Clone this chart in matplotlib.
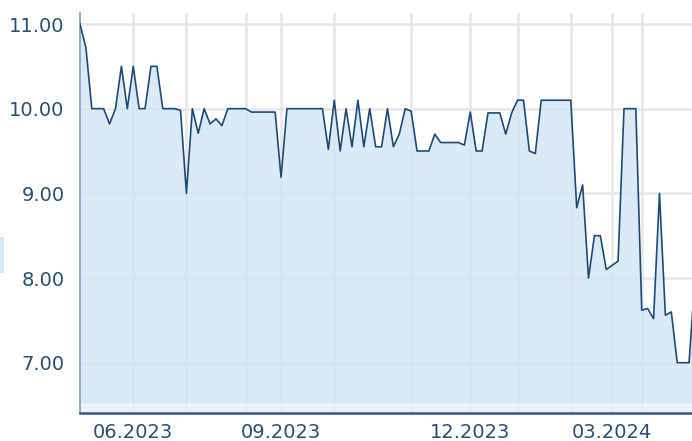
import numpy as np
import matplotlib.pyplot as plt
from matplotlib.patches import Rectangle

# sesiones con cotizacion por mes (eje de categorias, no de fechas)
meses = ["05.2023", "06.2023", "07.2023", "08.2023", "09.2023", "10.2023",
         "11.2023", "12.2023", "01.2024", "02.2024", "03.2024", "04.2024"]
sesiones = [9, 9, 10, 6, 9, 13, 10, 8, 9, 7, 5, 10]
etiquetas = ["06.2023", "09.2023", "12.2023", "03.2024"]

precio = [
    11.0, 10.72, 10.0, 10.0, 10.0, 9.82, 10.0, 10.5, 10.0,            # 05
    10.5, 10.0, 10.0, 10.5, 10.5, 10.0, 10.0, 10.0, 9.98,             # 06
    9.0, 10.0, 9.71, 10.0, 9.82, 9.88, 9.8, 10.0, 10.0, 10.0,         # 07
    10.0, 9.96, 9.96, 9.96, 9.96, 9.96,                               # 08
    9.19, 10.0, 10.0, 10.0, 10.0, 10.0, 10.0, 10.0, 9.52,             # 09
    10.1, 9.5, 10.0, 9.55, 10.1, 9.55, 10.0, 9.55, 9.55, 10.0, 9.55, 9.7, 10.0,  # 10
    9.97, 9.5, 9.5, 9.5, 9.7, 9.6, 9.6, 9.6, 9.6, 9.57,               # 11
    9.96, 9.5, 9.5, 9.95, 9.95, 9.95, 9.7, 9.95,                      # 12
    10.1, 10.1, 9.5, 9.47, 10.1, 10.1, 10.1, 10.1, 10.1,              # 01
    10.1, 8.83, 9.1, 8.0, 8.5, 8.5, 8.1,                              # 02
    8.15, 8.2, 10.0, 10.0, 10.0,                                      # 03
    7.62, 7.64, 7.52, 9.0, 7.56, 7.6, 7.0, 7.0, 7.0, 8.0,             # 04
]

color_linea = "#1e4a78"
color_texto = "#2b4f74"

x = np.arange(len(precio))
inicio_mes = np.cumsum([0] + sesiones[:-1])

fig = plt.figure(figsize=(6.92, 4.41), dpi=100)
ax = fig.add_axes([80/692, 28/441, 612/692, 400/441])

ax.fill_between(x, precio, 6.52, color="#d1e5f6", alpha=0.8, lw=0, zorder=2)
ax.axhspan(6.3, 6.52, color="#e8f2fb", alpha=0.8, lw=0, zorder=2)
ax.plot(x, precio, color=color_linea, lw=1.2, zorder=3)

ax.set_xlim(0, 103.5)
ax.set_ylim(6.406, 11.13)

ax.set_yticks([7, 8, 9, 10, 11])
ax.set_yticklabels(["%.2f" % v for v in [7, 8, 9, 10, 11]])
ax.set_xticks(inicio_mes[1:])
ax.set_xticklabels([m if m in etiquetas else "" for m in meses[1:]])

ax.set_axisbelow(True)
ax.grid(True, color="#e6e6e6", lw=1.8)
ax.tick_params(length=0, labelsize=14, labelcolor=color_texto)
ax.tick_params(axis="y", pad=11)
ax.tick_params(axis="x", pad=7)

for s in ["top", "right"]:
    ax.spines[s].set_visible(False)
ax.spines["left"].set_color("#7f9fc2")
ax.spines["left"].set_linewidth(1.2)
ax.spines["bottom"].set_color("#34587d")
ax.spines["bottom"].set_linewidth(1.8)

# trozo de la leyenda cortado a la izquierda
fig.patches.append(Rectangle((0, 168/441), 4/692, 36/441, transform=fig.transFigure,
                             color="#d6e8f8", lw=0))

fig.savefig("out.png", dpi=100)
